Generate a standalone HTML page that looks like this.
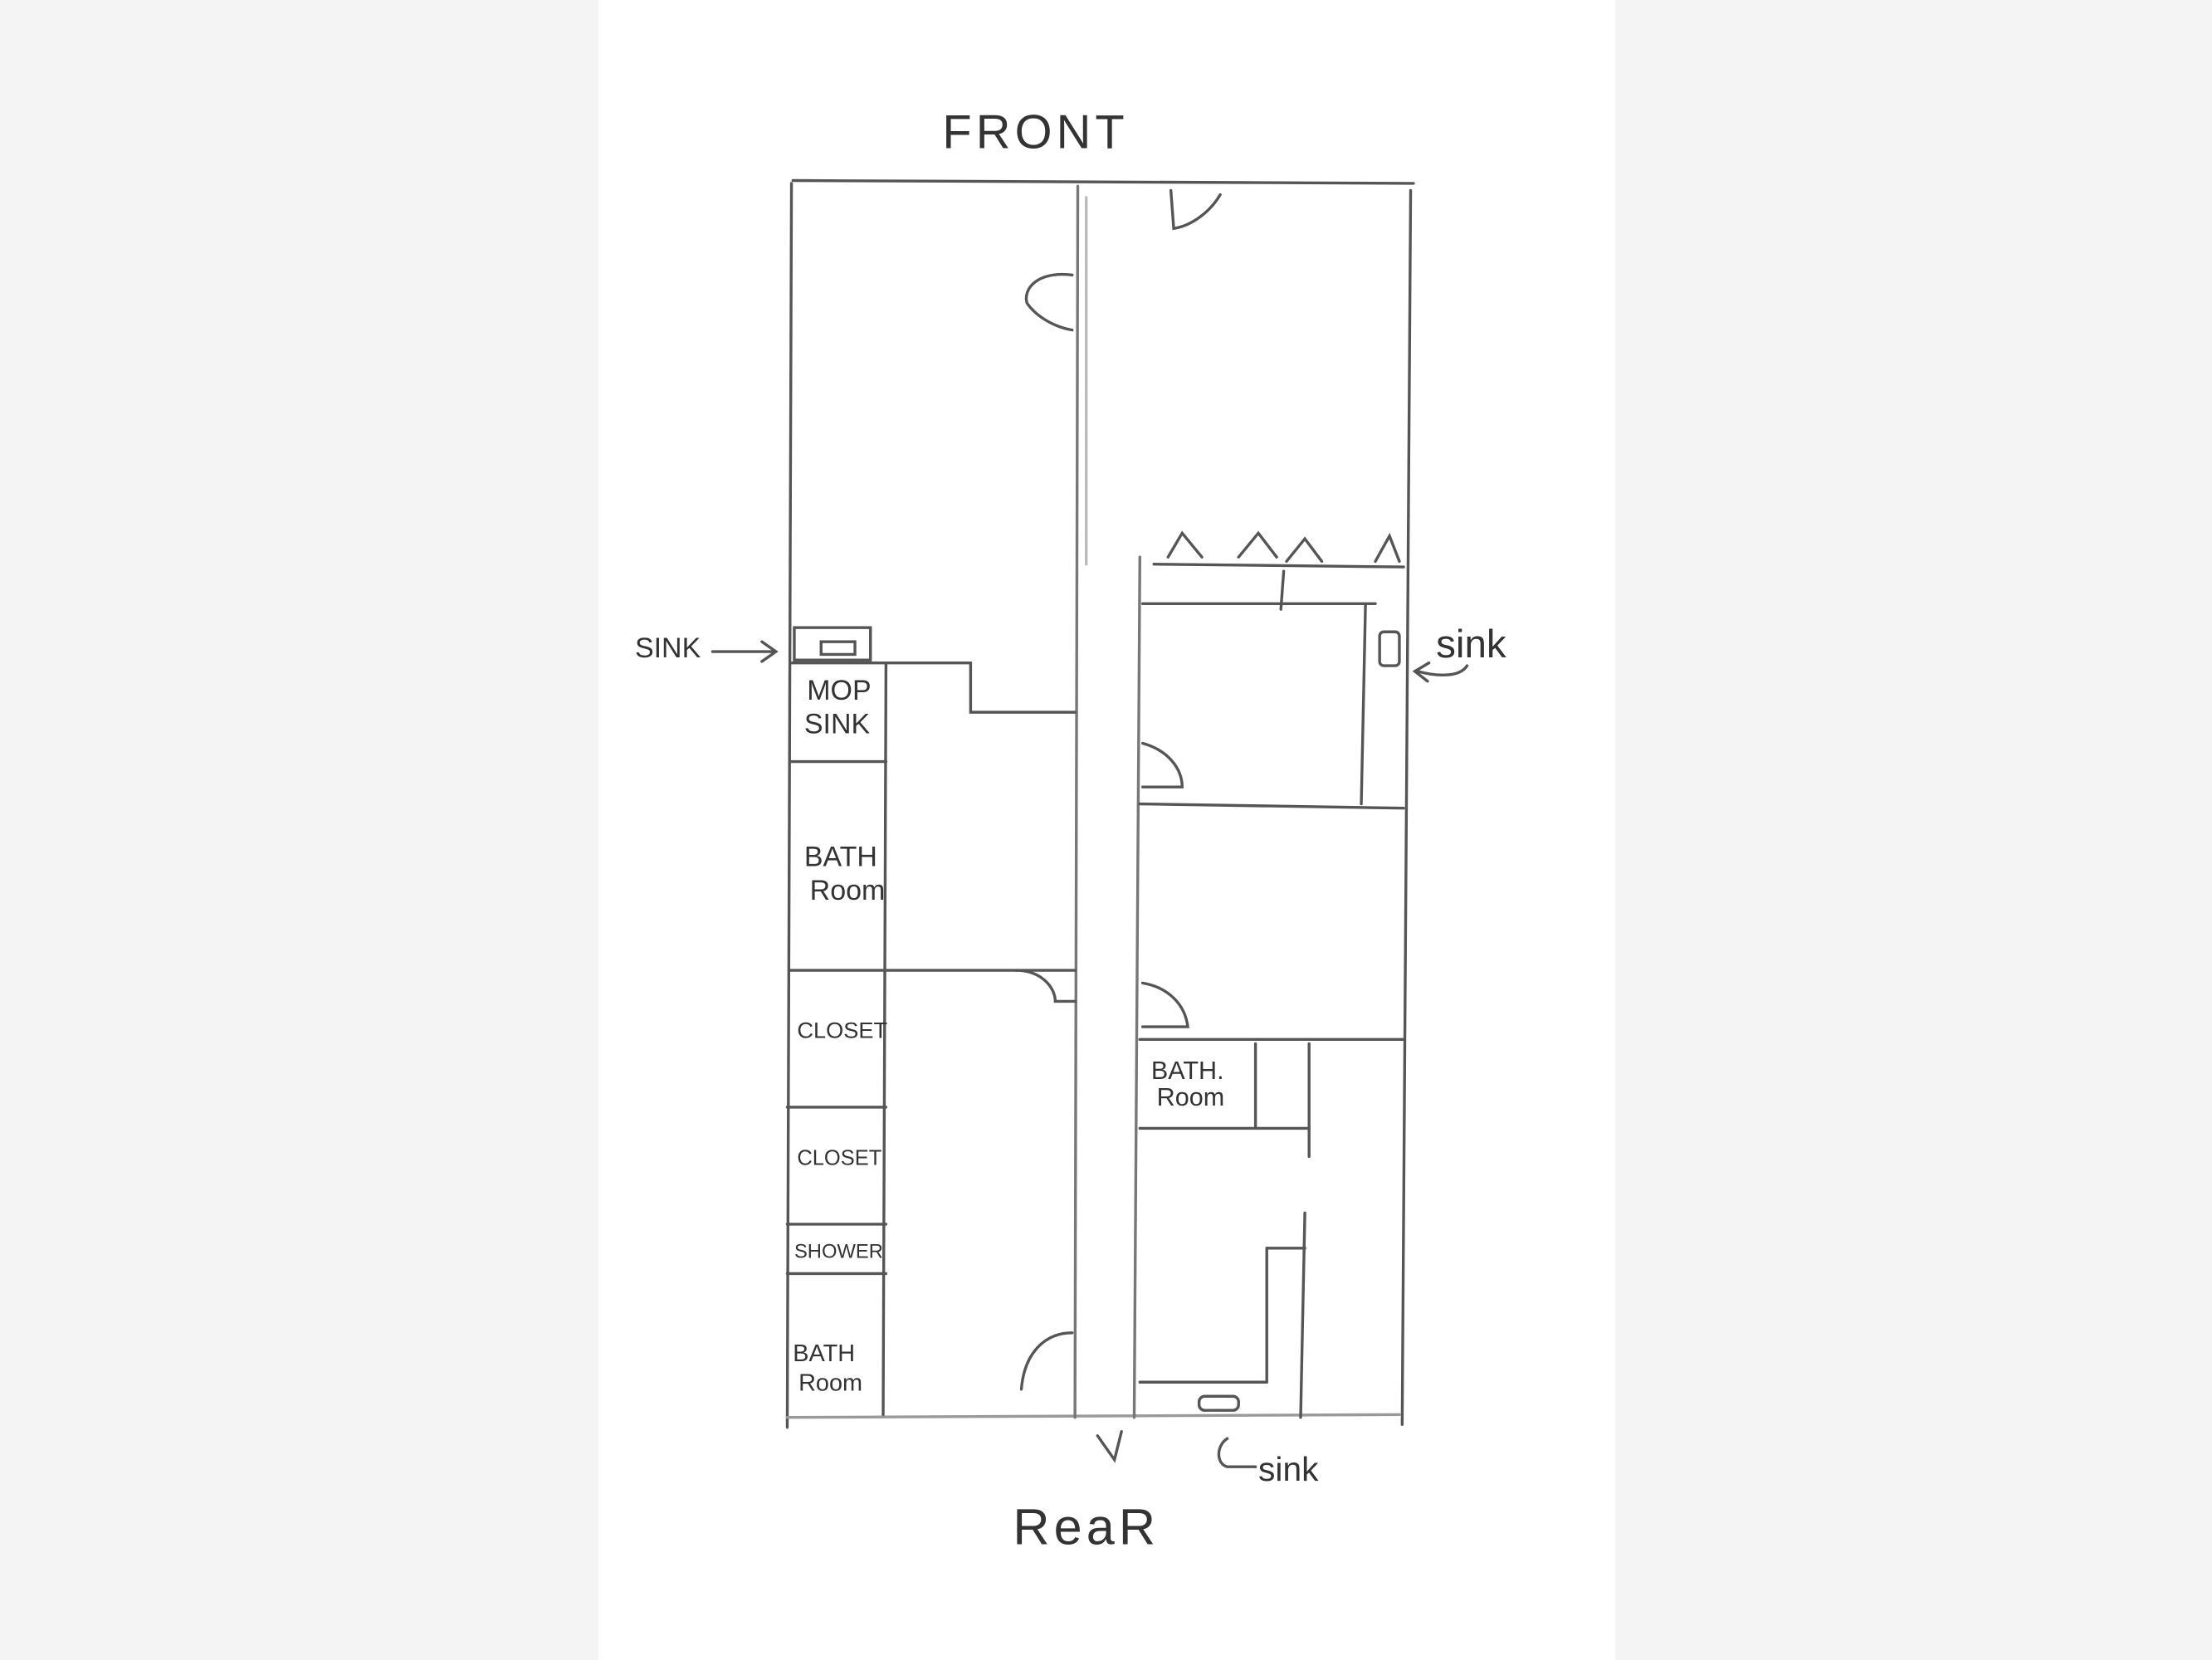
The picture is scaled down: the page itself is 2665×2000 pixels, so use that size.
<!DOCTYPE html>
<html><head><meta charset="utf-8"><style>
html,body{margin:0;padding:0;background:#f4f4f4;}
svg{display:block;}
text{font-family:"Liberation Sans",sans-serif;fill:#333;}
</style></head><body>
<svg width="2665" height="2000" viewBox="0 0 1568 1177" xmlns="http://www.w3.org/2000/svg">
<rect x="0" y="0" width="1568" height="1177" fill="#f4f4f4"/>
<rect x="424" y="0" width="721" height="1177" fill="#ffffff"/>
<g stroke="#555" stroke-width="2" fill="none" stroke-linecap="round">
<!-- outer -->
<path d="M562 128 L1002 130"/>
<path d="M561 130 L558 1012"/>
<path d="M1000 135 L994 1010"/>
<path d="M558 1005 L992 1003" stroke="#999"/>
<!-- corridor -->
<path d="M764 132 L762 1005" stroke="#777"/>
<path d="M808 395 L804 1005" stroke="#777"/>
<path d="M770 140 L770 400" stroke="#bbb"/>
<!-- doors -->
<path d="M760 195 C735 192 725 205 728 215 C735 225 748 232 760 234"/>
<path d="M830 135 L832 162 C845 160 858 150 865 138"/>
<path d="M810 527 C828 532 838 545 838 558 L810 558"/>
<path d="M720 688 C738 688 748 700 748 710 L762 710"/>
<path d="M810 697 C828 700 840 712 842 728 L810 728"/>
<path d="M760 945 C740 945 726 960 724 985"/>
<path d="M778 1018 L790 1035 L795 1015"/>
<!-- left rooms -->
<rect x="563" y="445" width="54" height="23"/>
<rect x="582" y="455" width="24" height="9"/>
<path d="M560 470 L688 470 L688 505 L762 505"/>
<path d="M628 470 L626 1003"/>
<path d="M560 540 L628 540"/>
<path d="M560 688 L762 688"/>
<path d="M558 785 L628 785"/>
<path d="M558 868 L628 868"/>
<path d="M558 903 L628 903"/>
<!-- right rooms -->
<path d="M818 400 L995 402"/>
<path d="M828 395 L838 378 L852 395 M878 395 L892 378 L905 395 M912 398 L925 382 L937 398 M975 398 L985 380 L992 398"/>
<path d="M910 405 L908 432"/>
<path d="M810 428 L975 428"/>
<path d="M968 428 L965 570"/>
<path d="M808 570 L995 573"/>
<rect x="978" y="448" width="14" height="24" rx="3"/>
<path d="M808 737 L995 737"/>
<path d="M890 740 L890 800"/>
<path d="M928 740 L928 820"/>
<path d="M808 800 L928 800"/>
<path d="M925 860 L922 1005"/>
<path d="M898 885 L925 885"/>
<path d="M898 885 L898 980"/>
<path d="M808 980 L898 980"/>
<rect x="850" y="990" width="28" height="10" rx="4"/>
<!-- arrows -->
<path d="M505 462 L548 462 M540 455 L550 462 L540 469"/>
<path d="M1040 472 C1035 480 1020 480 1005 476 M1013 470 L1003 476 L1012 483"/>
<path d="M870 1020 C862 1025 862 1038 870 1040 L890 1040"/>
</g>
<g font-size="26" stroke="none">
<text x="668" y="105" font-size="34" letter-spacing="3">FRONT</text>
<text x="718" y="1095" font-size="36" letter-spacing="3">ReaR</text>
</g>
<g font-size="20">
<text x="450" y="466">SINK</text>
<text x="1018" y="466" font-size="28">sink</text>
<text x="892" y="1050" font-size="24">sink</text>
<text x="572" y="496">MOP</text>
<text x="570" y="520">SINK</text>
<text x="570" y="614">BATH</text>
<text x="574" y="638">Room</text>
<text x="565" y="736" font-size="16">CLOSET</text>
<text x="565" y="826" font-size="15">CLOSET</text>
<text x="563" y="892" font-size="14">SHOWER</text>
<text x="562" y="965" font-size="17">BATH</text>
<text x="566" y="986" font-size="17">Room</text>
<text x="816" y="765" font-size="18">BATH.</text>
<text x="820" y="784" font-size="18">Room</text>
</g>
</svg>
</body></html>
